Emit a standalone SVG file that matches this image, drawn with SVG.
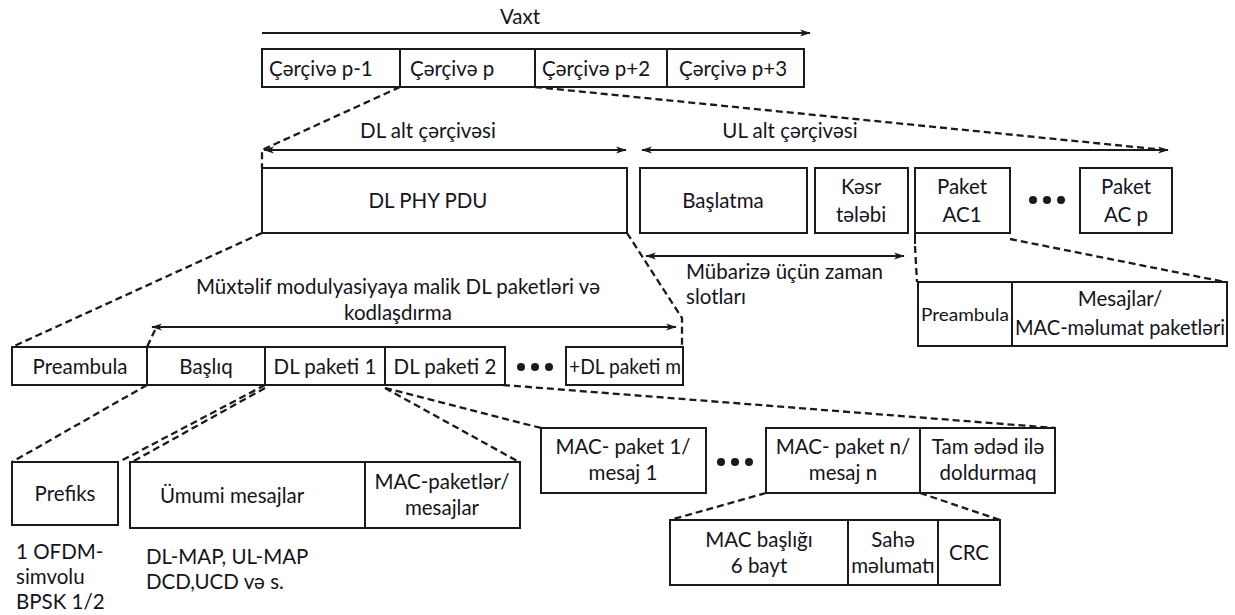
<svg xmlns="http://www.w3.org/2000/svg" width="1235" height="615" viewBox="0 0 1235 615">
  <style>
    text { font-family: Lato, "Liberation Sans", sans-serif; font-size: 20.5px; fill: #141420; }
    .c { text-anchor: middle; }
    .sm { font-size: 17px; }
    .box { fill: #fff; stroke: #1a1a1a; stroke-width: 2; }
    .div { stroke: #1a1a1a; stroke-width: 2; fill: none; }
    .dash { stroke: #1a1a1a; stroke-width: 2.3; fill: none; stroke-dasharray: 7 4; }
    .arr { stroke: #1a1a1a; stroke-width: 2; fill: none; }
    .dot { fill: #1a1a1a; }
  </style>
  <defs>
    <marker id="ah" viewBox="0 0 12 10" refX="11" refY="5" markerWidth="11" markerHeight="9" orient="auto-start-reverse" markerUnits="userSpaceOnUse">
      <path d="M0,1 L12,5 L0,9 L3,5 Z" fill="#1a1a1a"/>
    </marker>
  </defs>
  <rect width="1235" height="615" fill="#fff"/>

  <!-- connectors: dashed zoom-in guides and dimension arrows -->
  <g id="connectors">
    <line class="arr" x1="262" y1="33" x2="810" y2="33" marker-end="url(#ah)"/>
    <path class="dash" d="M400,87 L262,150 L262,168"/>
    <path class="dash" d="M535,87 L1165,150"/>
    <line class="arr" x1="264" y1="150" x2="626" y2="150" marker-start="url(#ah)" marker-end="url(#ah)"/>
    <line class="arr" x1="642" y1="150" x2="1168" y2="150" marker-start="url(#ah)" marker-end="url(#ah)"/>
    <line class="arr" x1="646" y1="256" x2="904" y2="256" marker-start="url(#ah)" marker-end="url(#ah)"/>
    <line class="div" x1="915" y1="233" x2="915" y2="244"/>
    <path class="dash" d="M915,246 L917,282"/>
    <path class="dash" d="M1010,239 L1225,282"/>
    <path class="dash" d="M262,233 L12,347"/>
    <path class="dash" d="M627,233 L682,318 L682,347"/>
    <line class="arr" x1="152" y1="327" x2="676" y2="327" marker-start="url(#ah)" marker-end="url(#ah)"/>
    <path class="dash" d="M155,330 L147,347"/>
    <path class="dash" d="M147,385 L12,462"/>
    <path class="dash" d="M265,385 L119,462"/>
    <path class="dash" d="M265,388 L132,462"/>
    <path class="dash" d="M385,388 L519,462"/>
    <path class="dash" d="M385,388 L541,428"/>
    <path class="dash" d="M503,385 L1055,428"/>
    <path class="dash" d="M766,493 L670,520"/>
    <path class="dash" d="M920,493 L1000,520"/>
  </g>

  <g id="time-label"><text class="c" x="520" y="24">Vaxt</text></g>

  <g id="frames">
    <rect class="box" x="262" y="49" width="542" height="38"/>
    <line class="div" x1="400" y1="49" x2="400" y2="87"/>
    <line class="div" x1="535" y1="49" x2="535" y2="87"/>
    <line class="div" x1="667" y1="49" x2="667" y2="87"/>
    <text x="269" y="76">Çərçivə p-1</text>
    <text x="410" y="76">Çərçivə p</text>
    <text x="542" y="76">Çərçivə p+2</text>
    <text x="679" y="76">Çərçivə p+3</text>
  </g>

  <g id="subframe-labels">
    <text class="c" x="428" y="138">DL alt çərçivəsi</text>
    <text class="c" x="790" y="138">UL alt çərçivəsi</text>
  </g>

  <g id="dl-phy-pdu">
    <rect class="box" x="262" y="168" width="365" height="65"/>
    <text class="c" x="428" y="208">DL PHY PDU</text>
  </g>

  <g id="ul-baslatma">
    <rect class="box" x="640" y="168" width="167" height="65"/>
    <text class="c" x="723" y="208">Başlatma</text>
  </g>
  <g id="ul-kesr">
    <rect class="box" x="815" y="168" width="93" height="65"/>
    <text class="c" x="861" y="194">Kəsr</text>
    <text class="c" x="861" y="222">tələbi</text>
  </g>
  <g id="ul-ac1">
    <rect class="box" x="915" y="168" width="95" height="65"/>
    <text class="c" x="962" y="194">Paket</text>
    <text class="c" x="962" y="222">AC1</text>
  </g>
  <g id="ul-dots">
    <circle class="dot" cx="1033" cy="200" r="4"/>
    <circle class="dot" cx="1047" cy="200" r="4"/>
    <circle class="dot" cx="1061" cy="200" r="4"/>
  </g>
  <g id="ul-acp">
    <rect class="box" x="1080" y="168" width="92" height="65"/>
    <text class="c" x="1126" y="194">Paket</text>
    <text class="c" x="1126" y="222">AC p</text>
  </g>

  <g id="contention-label">
    <text x="686" y="279">Mübarizə üçün zaman</text>
    <text x="686" y="304">slotları</text>
  </g>

  <g id="ul-burst">
    <rect class="box" x="918" y="282" width="309" height="64"/>
    <line class="div" x1="1012" y1="282" x2="1012" y2="346"/>
    <text class="c sm" x="965" y="321" textLength="88" lengthAdjust="spacingAndGlyphs">Preambula</text>
    <text class="c" x="1120" y="306">Mesajlar/</text>
    <text class="c" x="1120" y="335" textLength="210" lengthAdjust="spacingAndGlyphs">MAC-məlumat paketləri</text>
  </g>

  <g id="dl-bursts-label">
    <text class="c" x="398" y="294">Müxtəlif modulyasiyaya malik DL paketləri və</text>
    <text class="c" x="398" y="320">kodlaşdırma</text>
  </g>

  <g id="dl-row">
    <rect class="box" x="12" y="347" width="493" height="38"/>
    <line class="div" x1="147" y1="347" x2="147" y2="385"/>
    <line class="div" x1="265" y1="347" x2="265" y2="385"/>
    <line class="div" x1="385" y1="347" x2="385" y2="385"/>
    <text class="c" x="80" y="374">Preambula</text>
    <text class="c" x="206" y="374">Başlıq</text>
    <text class="c" x="325" y="374">DL paketi 1</text>
    <text class="c" x="445" y="374">DL paketi 2</text>
  </g>
  <g id="dl-dots">
    <circle class="dot" cx="521" cy="367" r="4"/>
    <circle class="dot" cx="535" cy="367" r="4"/>
    <circle class="dot" cx="549" cy="367" r="4"/>
  </g>
  <g id="dl-burst-m">
    <rect class="box" x="566" y="347" width="117" height="38"/>
    <text class="c" x="625" y="374" textLength="112" lengthAdjust="spacingAndGlyphs">+DL paketi m</text>
  </g>

  <g id="prefiks">
    <rect class="box" x="12" y="462" width="106" height="63"/>
    <text class="c" x="65" y="501">Prefiks</text>
  </g>
  <g id="header-content">
    <rect class="box" x="130" y="462" width="390" height="66"/>
    <line class="div" x1="365" y1="462" x2="365" y2="528"/>
    <text class="c" x="232" y="503">Ümumi mesajlar</text>
    <text class="c" x="442" y="489">MAC-paketlər/</text>
    <text class="c" x="442" y="515">mesajlar</text>
  </g>

  <g id="notes">
    <text x="16" y="559">1 OFDM-</text>
    <text x="16" y="584">simvolu</text>
    <text x="16" y="609">BPSK 1/2</text>
    <text x="146" y="564">DL-MAP, UL-MAP</text>
    <text x="146" y="589">DCD,UCD və s.</text>
  </g>

  <g id="mac-pdu-1">
    <rect class="box" x="541" y="428" width="165" height="65"/>
    <text class="c" x="623" y="454">MAC- paket 1/</text>
    <text class="c" x="623" y="480">mesaj 1</text>
  </g>
  <g id="mac-dots">
    <circle class="dot" cx="721" cy="462" r="4"/>
    <circle class="dot" cx="735" cy="462" r="4"/>
    <circle class="dot" cx="749" cy="462" r="4"/>
  </g>
  <g id="mac-pdu-n">
    <rect class="box" x="766" y="428" width="289" height="65"/>
    <line class="div" x1="920" y1="428" x2="920" y2="493"/>
    <text class="c" x="843" y="454">MAC- paket n/</text>
    <text class="c" x="843" y="480">mesaj n</text>
    <text class="c" x="988" y="454">Tam ədəd ilə</text>
    <text class="c" x="988" y="480">doldurmaq</text>
  </g>

  <g id="mac-pdu-fields">
    <rect class="box" x="670" y="520" width="330" height="65"/>
    <line class="div" x1="848" y1="520" x2="848" y2="585"/>
    <line class="div" x1="938" y1="520" x2="938" y2="585"/>
    <text class="c" x="759" y="547">MAC başlığı</text>
    <text class="c" x="759" y="573">6 bayt</text>
    <text class="c" x="893" y="547">Sahə</text>
    <text class="c" x="893" y="573">məlumatı</text>
    <text class="c" x="969" y="560">CRC</text>
  </g>
</svg>
